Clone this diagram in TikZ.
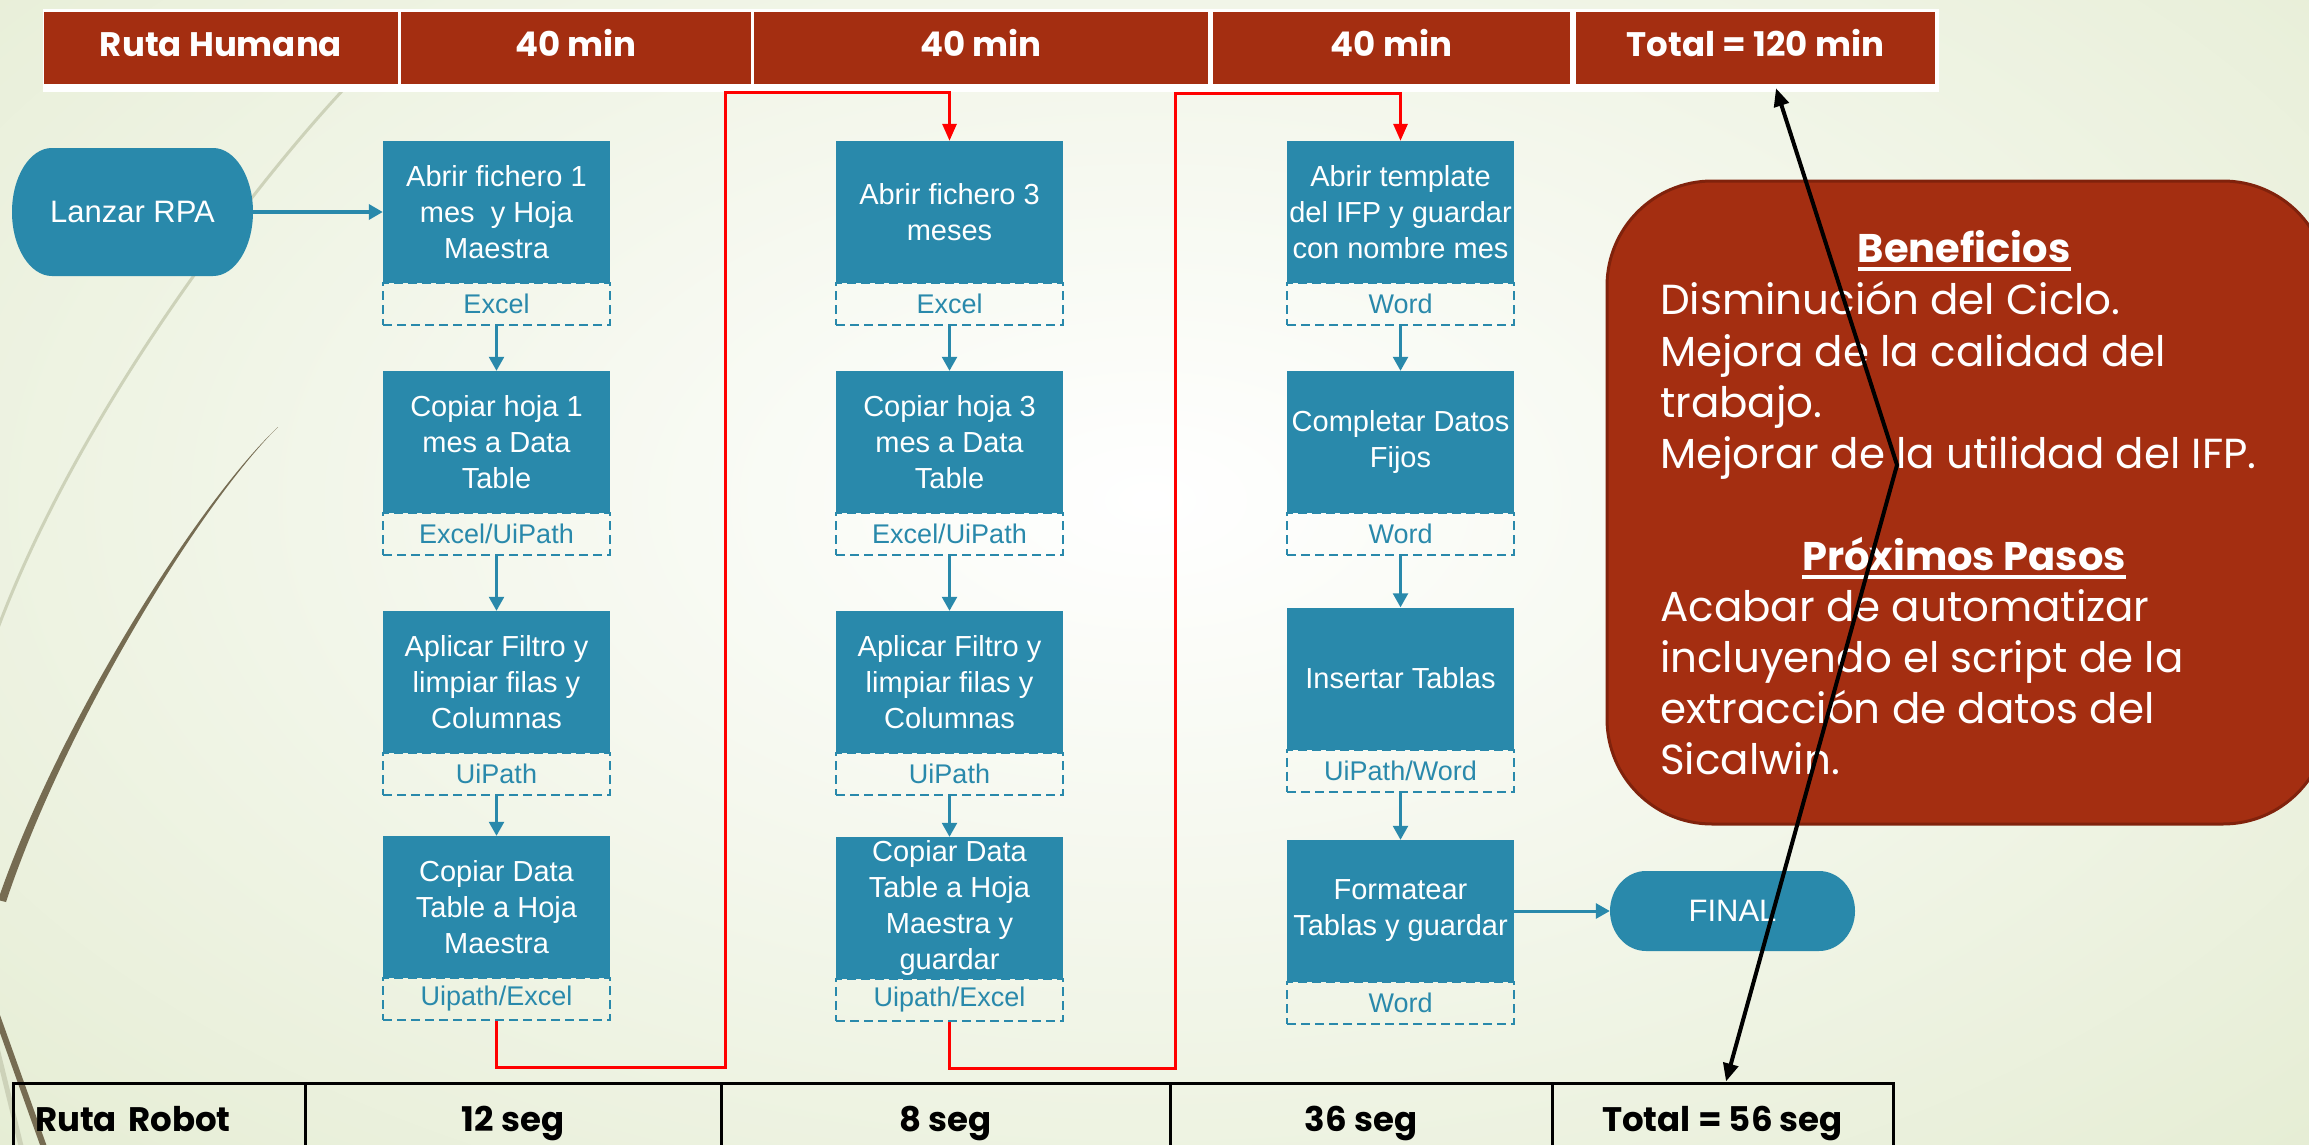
\documentclass[tikz,border=0pt]{standalone}
\usepackage{fontspec}
\setmainfont{Liberation Sans}
\newfontfamily\gothic{Poppins}
\usetikzlibrary{arrows.meta}
\definecolor{stepblue}{RGB}{41,137,171}
\definecolor{hred}{RGB}{164,46,17}
\definecolor{hredline}{RGB}{128,34,12}
\definecolor{bggreen}{RGB}{214,226,186}
\definecolor{wispdark}{RGB}{118,108,82}
\definecolor{wisplight}{RGB}{205,210,185}
\definecolor{flowred}{RGB}{255,0,0}
\begin{document}
\begin{tikzpicture}[x=1pt,y=-1pt,
 stepbox/.style={fill=stepblue, text=white, minimum width=227, minimum height=142, inner sep=1, align=center, font=\fontsize{29}{36}\selectfont},
 tagbox/.style={draw=stepblue, line width=2, dash pattern=on 9pt off 5pt, minimum width=227, minimum height=42, inner sep=0, text=stepblue, font=\fontsize{27}{30}\selectfont},
 flow/.style={draw=stepblue, line width=2.5, -{Triangle[length=14pt,width=15pt]}},
 hop/.style={draw=flowred, line width=3, -{Triangle[length=17pt,width=14pt]}},
 hcell/.style={fill=hred, text=white, minimum height=72, inner sep=0, text height=25, text depth=7, font=\gothic\bfseries\fontsize{34}{40}\selectfont},
 rcell/.style={draw=black, line width=3, minimum height=78, inner sep=0, text height=26, text depth=8, font=\gothic\bfseries\fontsize{34}{40}\selectfont},
 termtext/.style={text=white, inner sep=0, font=\fontsize{31}{36}\selectfont},
 bodyline/.style={anchor=base west, text=white, inner sep=0, font=\gothic\fontsize{42}{51}\selectfont},
 headline/.style={anchor=base, text=white, inner sep=0, font=\gothic\bfseries\fontsize{40}{48}\selectfont},
 uline/.style={white, line width=3.5},
 linkarrow/.style={line width=4, {Triangle[length=18pt,width=15pt]}-{Triangle[length=18pt,width=15pt]}}
]
\useasboundingbox (0,0) rectangle (2309,1145);
% background
\begin{scope}
\clip (0,0) rectangle (2309,1145);
\shade[inner color=white, outer color=bggreen] (-1500,-1000) rectangle (3800,2000);
\draw[wisplight, line width=3] (360,72) .. controls (260,175) and (70,420) .. (-10,650);
\fill[wispdark] (278,427) .. controls (200,500) and (60,720) .. (-2,900) -- (6,902) .. controls (66,722) and (202,502) .. (278,427) -- cycle;
\draw[wisplight, line width=5] (-5,1040) -- (22,1150);
\draw[wispdark, line width=6] (-5,1010) -- (45,1150);
\end{scope}

% top table
\fill[white] (43,9) rectangle (1939,92);
\node[hcell, minimum width=354] (h1) at (221,48) {Ruta Humana};
\node[hcell, minimum width=350] (h2) at (576,48) {40 min};
\node[hcell, minimum width=454] (h3) at (981,48) {40 min};
\node[hcell, minimum width=357] (h4) at (1391.5,48) {40 min};
\node[hcell, minimum width=359] (h5) at (1755.5,48) {Total = 120 min};

% bottom table
\node[rcell, minimum width=292, text width=248, align=left] (r1) at (159,1122) {Ruta Robot};
\node[rcell, minimum width=416] (r2) at (513,1122) {12 seg};
\node[rcell, minimum width=449] (r3) at (945.5,1122) {8 seg};
\node[rcell, minimum width=382] (r4) at (1361,1122) {36 seg};
\node[rcell, minimum width=341] (r5) at (1722.5,1122) {Total = 56 seg};

% tool labels
\node[tagbox] (c1-t1) at (496.5,304) {Excel};
\node[tagbox] (c1-t2) at (496.5,534) {Excel/UiPath};
\node[tagbox] (c1-t3) at (496.5,774) {UiPath};
\node[tagbox] (c1-t4) at (496.5,999) {Uipath/Excel};
\node[tagbox] (c2-t1) at (949.5,304) {Excel};
\node[tagbox] (c2-t2) at (949.5,534) {Excel/UiPath};
\node[tagbox] (c2-t3) at (949.5,774) {UiPath};
\node[tagbox] (c2-t4) at (949.5,1000) {Uipath/Excel};
\node[tagbox] (c3-t1) at (1400.5,304) {Word};
\node[tagbox] (c3-t2) at (1400.5,534) {Word};
\node[tagbox] (c3-t3) at (1400.5,770.5) {UiPath/Word};
\node[tagbox] (c3-t4) at (1400.5,1003) {Word};

% steps
\node[stepbox] (c1-b1) at (496.5,212) {Abrir fichero 1\\mes~ y Hoja\\Maestra};
\node[stepbox] (c1-b2) at (496.5,442) {Copiar hoja 1\\mes a Data\\Table};
\node[stepbox] (c1-b3) at (496.5,682) {Aplicar Filtro y\\limpiar filas y\\Columnas};
\node[stepbox] (c1-b4) at (496.5,907) {Copiar Data\\Table a Hoja\\Maestra};
\node[stepbox] (c2-b1) at (949.5,212) {Abrir fichero 3\\meses};
\node[stepbox] (c2-b2) at (949.5,442) {Copiar hoja 3\\mes a Data\\Table};
\node[stepbox] (c2-b3) at (949.5,682) {Aplicar Filtro y\\limpiar filas y\\Columnas};
\node[stepbox] (c2-b4) at (949.5,908) {Copiar Data\\Table a Hoja\\Maestra y\\guardar};
\node[stepbox] (c3-b1) at (1400.5,212) {Abrir template\\del IFP y guardar\\con nombre mes};
\node[stepbox] (c3-b2) at (1400.5,442) {Completar Datos\\Fijos};
\node[stepbox] (c3-b3) at (1400.5,678.5) {Insertar Tablas};
\node[stepbox] (c3-b4) at (1400.5,911) {Formatear\\Tablas y guardar};

\foreach \c in {1,2,3}{
  \foreach \r/\s in {1/2,2/3,3/4}{
    \draw[flow] (c\c-t\r.south) -- (c\c-b\s.north);
  }
}

% terminators
\fill[stepblue] (52,148) -- (213,148) arc[start angle=-90, end angle=90, x radius=40, y radius=64] -- (52,276) arc[start angle=90, end angle=270, x radius=40, y radius=64] -- cycle;
\node[termtext, minimum width=241, minimum height=128] (lanzar) at (132.5,212) {Lanzar RPA};
\draw[flow, line width=3.5] (lanzar.east) -- (c1-b1.west);

\fill[stepblue] (1646,871) -- (1819,871) arc[start angle=-90, end angle=90, x radius=36, y radius=40] -- (1646,951) arc[start angle=90, end angle=270, x radius=36, y radius=40] -- cycle;
\node[termtext, minimum width=245, minimum height=80] (final) at (1732.5,911) {FINAL};
\draw[flow, line width=3] (c3-b4.east) -- (final.west);

% red hops between columns
\coordinate (k1) at (725,1067);
\coordinate (k2) at (725,93);
\draw[hop] (c1-t4.south) -- (c1-t4.south |- k1) -- (k1) -- (k2) -- (c2-b1.north |- k2) -- (c2-b1.north);
\coordinate (k3) at (1175,1068);
\coordinate (k4) at (1175,94);
\draw[hop] (c2-t4.south) -- (c2-t4.south |- k3) -- (k3) -- (k4) -- (c3-b1.north |- k4) -- (c3-b1.north);

% benefits panel
\node[draw=hredline, fill=hred, line width=3, rounded corners=105, minimum width=721, minimum height=643, inner sep=0] (ben) at (1967.5,502.5) {};
\node[headline] (benh1) at (1964,262) {Beneficios};
\draw[uline] ([yshift=-7pt]benh1.base west) -- ([yshift=-7pt]benh1.base east);
\node[bodyline] (bl1) at (1660,314) {Disminución del Ciclo.};
\node[bodyline] (bl2) at (1660,366) {Mejora de la calidad del};
\node[bodyline] (bl3) at (1660,417) {trabajo.};
\node[bodyline] (bl4) at (1660,468) {Mejorar de la utilidad del IFP.};
\node[headline] (benh2) at (1964,570) {Próximos Pasos};
\draw[uline] ([yshift=-7pt]benh2.base west) -- ([yshift=-7pt]benh2.base east);
\node[bodyline] (bl5) at (1660,621) {Acabar de automatizar};
\node[bodyline] (bl6) at (1660,672) {incluyendo el script de la};
\node[bodyline] (bl7) at (1660,723) {extracción de datos del};
\node[bodyline] (bl8) at (1660,774) {Sicalwin.};

% link between the totals
\coordinate (kink) at (1897,465);
\draw[linkarrow] ([xshift=20.5pt,yshift=-4pt]h5.south) -- (kink) -- ([xshift=3.5pt]r5.north);
\end{tikzpicture}
\end{document}
